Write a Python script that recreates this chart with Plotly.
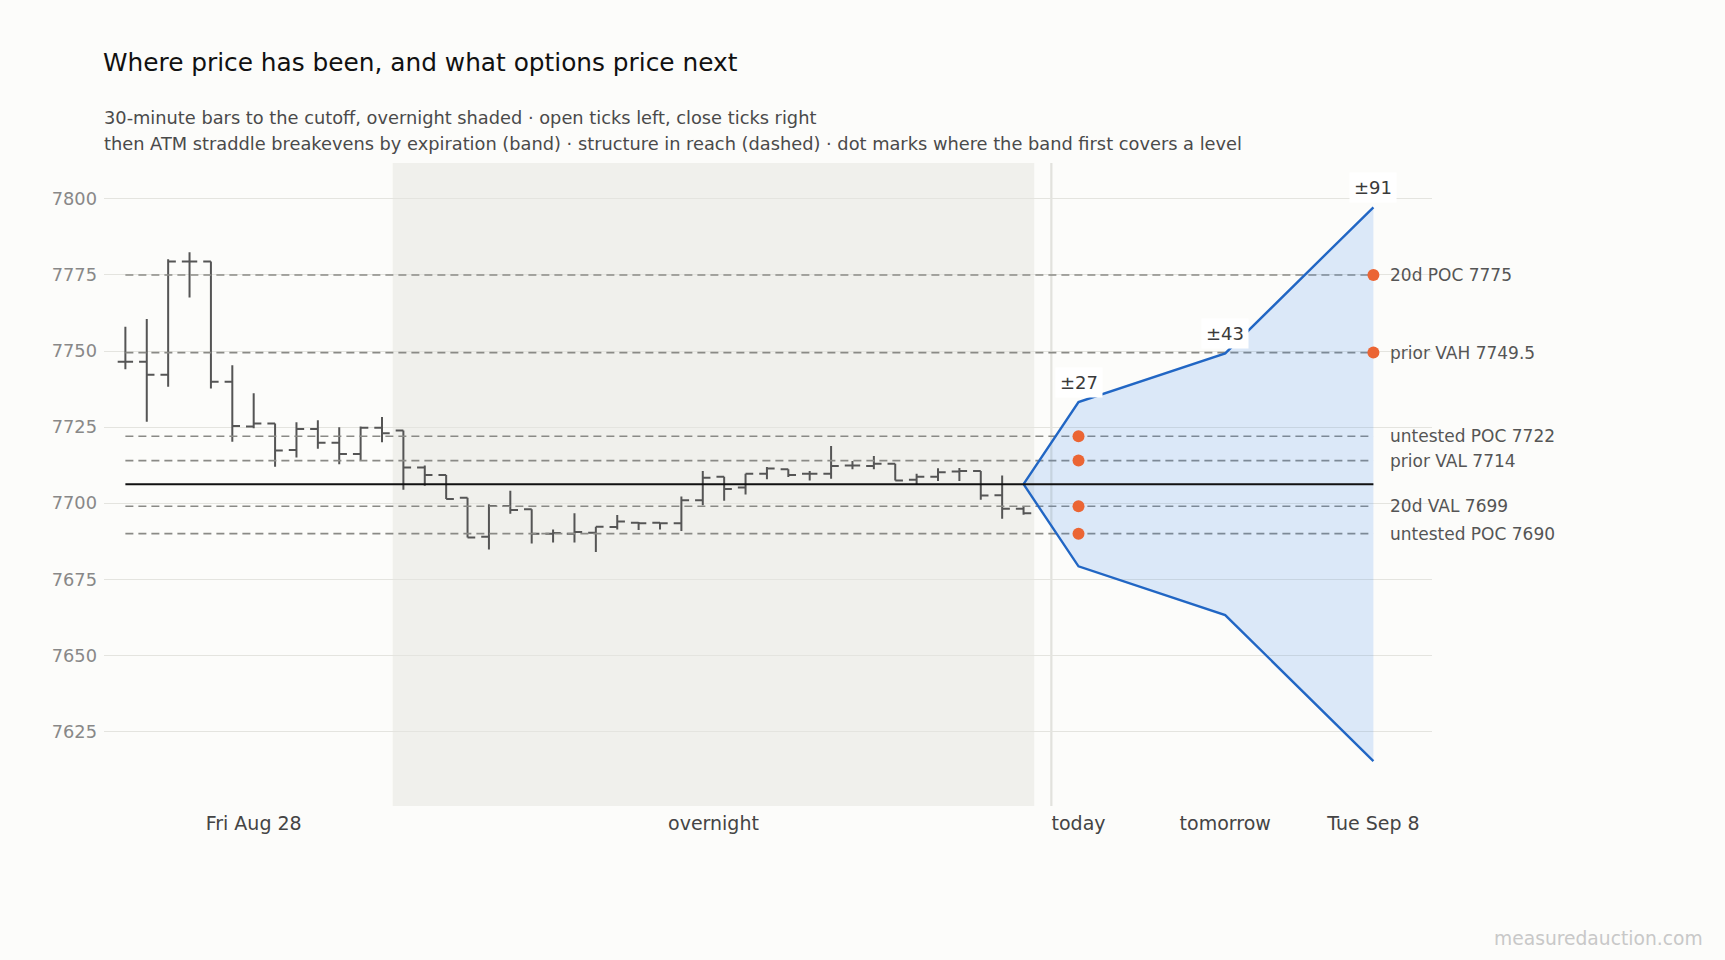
import plotly.graph_objects as go

# 30-minute bars up to the cutoff (index 0..42)
bar_open = [7746.5, 7746.5, 7742.2, 7779.4, 7779.4, 7739.9, 7725.2, 7726.2, 7717.5, 7724.4,
            7719.9, 7716.2, 7724.8, 7723.9, 7711.7, 7709.3, 7701.8, 7689.0, 7699.1, 7698.0,
            7690.0, 7690.0, 7690.3, 7692.2, 7693.6, 7693.6, 7693.4, 7701.0, 7708.7, 7705.2,
            7709.7, 7711.2, 7709.7, 7709.7, 7712.4, 7712.2, 7713.0, 7707.7, 7708.7, 7710.4,
            7710.6, 7702.6, 7698.2]
bar_high = [7758.0, 7760.5, 7780.2, 7782.5, 7779.4, 7745.3, 7736.1, 7726.2, 7726.6, 7727.3,
            7725.0, 7725.2, 7728.3, 7723.9, 7712.4, 7709.3, 7701.8, 7699.7, 7704.1, 7698.0,
            7691.4, 7696.7, 7692.3, 7696.1, 7693.8, 7693.6, 7702.2, 7710.6, 7708.7, 7709.7,
            7711.9, 7711.2, 7710.6, 7718.8, 7713.9, 7715.5, 7713.0, 7709.7, 7711.5, 7711.6,
            7710.6, 7709.1, 7699.0]
bar_low = [7744.0, 7726.8, 7738.3, 7767.6, 7737.7, 7720.2, 7724.6, 7712.0, 7715.0, 7717.9,
           7712.8, 7714.2, 7720.0, 7704.4, 7705.7, 7701.4, 7688.7, 7684.8, 7696.5, 7686.8,
           7687.1, 7687.1, 7684.0, 7691.4, 7691.2, 7691.4, 7690.9, 7699.3, 7700.8, 7702.9,
           7707.9, 7708.6, 7707.5, 7708.0, 7711.2, 7711.2, 7707.5, 7706.3, 7707.3, 7707.3,
           7701.1, 7694.9, 7696.2]
bar_close = [7746.5, 7742.2, 7779.4, 7779.4, 7739.9, 7725.4, 7726.2, 7717.3, 7724.4, 7719.9,
             7716.2, 7724.8, 7723.0, 7711.7, 7709.3, 7701.4, 7688.7, 7699.1, 7697.8, 7690.0,
             7690.2, 7690.5, 7692.3, 7694.0, 7693.4, 7693.4, 7701.0, 7708.4, 7704.7, 7709.7,
             7711.4, 7709.3, 7709.7, 7712.2, 7712.4, 7713.0, 7707.5, 7708.7, 7710.2, 7710.6,
             7702.5, 7698.2, 7696.7]
bar_x = list(range(len(bar_open)))

# sessions: first index, last index
session_labels = ["Fri Aug 28", "overnight"]
session_first = [0, 13]
session_last = [12, 42]

cutoff_x = 43.3
anchor_price = 7706.25

# ATM straddle by expiration
expiry_labels = ["today", "tomorrow", "Tue Sep 8"]
expiry_x = [44.57, 51.43, 58.36]
straddle = [27, 43, 91]

# structure levels
level_names = ["20d POC", "prior VAH", "untested POC", "prior VAL", "20d VAL", "untested POC"]
level_prices = [7775, 7749.5, 7722, 7714, 7699, 7690]

FONT = "DejaVu Sans"
BG = "#fcfcfa"

fig = go.Figure()

# shaded overnight session
on_x0 = session_first[1] - 0.5
on_x1 = session_last[1] + 0.5
fig.add_shape(type="rect", xref="x", yref="paper", x0=on_x0, x1=on_x1, y0=0, y1=1,
              fillcolor="#f0f0ec", line_width=0, layer="below")
# cutoff line
fig.add_shape(type="line", xref="x", yref="paper", x0=cutoff_x, x1=cutoff_x, y0=0, y1=1,
              line=dict(color="#e2e2dd", width=2.2), layer="below")

last_x = bar_x[-1]
end_x = expiry_x[-1]

# dashed structure levels
for p in level_prices:
    fig.add_trace(go.Scatter(x=[bar_x[0], end_x], y=[p, p], mode="lines",
                             line=dict(color="#8a8a86", width=1.6, dash="8px,5px"),
                             hoverinfo="skip", showlegend=False))

# bars
fig.add_trace(go.Ohlc(x=bar_x, open=bar_open, high=bar_high, low=bar_low, close=bar_close,
                      increasing_line_color="#555555", decreasing_line_color="#555555",
                      line_width=2, tickwidth=0.36, showlegend=False))

# straddle band
band_x = [last_x] + expiry_x
upper = [anchor_price] + [anchor_price + s for s in straddle]
lower = [anchor_price] + [anchor_price - s for s in straddle]
fig.add_trace(go.Scatter(x=band_x, y=lower, mode="lines",
                         line=dict(color="#2166c4", width=2.4),
                         hoverinfo="skip", showlegend=False))
fig.add_trace(go.Scatter(x=band_x, y=upper, mode="lines", fill="tonexty",
                         fillcolor="rgba(60,135,235,0.17)",
                         line=dict(color="#2166c4", width=2.4),
                         hoverinfo="skip", showlegend=False))

# reference price line
fig.add_trace(go.Scatter(x=[bar_x[0], end_x], y=[anchor_price, anchor_price], mode="lines",
                         line=dict(color="#111111", width=2),
                         hoverinfo="skip", showlegend=False))

# dots where the band first covers each level
dot_x, dot_y = [], []
for p in level_prices:
    for ex, s in zip(expiry_x, straddle):
        if anchor_price - s <= p <= anchor_price + s:
            dot_x.append(ex)
            dot_y.append(p)
            break
fig.add_trace(go.Scatter(x=dot_x, y=dot_y, mode="markers",
                         marker=dict(color="#eb6534", size=12),
                         hoverinfo="skip", showlegend=False))

# straddle labels
for ex, s, u in zip(expiry_x, straddle, upper[1:]):
    fig.add_annotation(x=ex, y=u, text=f"±{s}", showarrow=False, yshift=20,
                       font=dict(family=FONT, size=18, color="#3a3a3a"),
                       bgcolor="#ffffff", borderpad=4)

# level labels
for name, p in zip(level_names, level_prices):
    fig.add_annotation(x=end_x, y=p, text=f"{name} {p:g}", showarrow=False,
                       xanchor="left", xshift=15,
                       font=dict(family=FONT, size=17, color="#555555"))

# subtitle
fig.add_annotation(xref="paper", yref="paper", x=0, y=1.070, xanchor="left", yanchor="middle",
                   xshift=-2,
                   text="30-minute bars to the cutoff, overnight shaded · open ticks left, close ticks right",
                   showarrow=False, font=dict(family=FONT, size=17.8, color="#4a4a4a"))
fig.add_annotation(xref="paper", yref="paper", x=0, y=1.031, xanchor="left", yanchor="middle",
                   xshift=-2,
                   text="then ATM straddle breakevens by expiration (band) · structure in reach (dashed) · dot marks where the band first covers a level",
                   showarrow=False, font=dict(family=FONT, size=17.8, color="#4a4a4a"))

# watermark
fig.add_annotation(xref="paper", yref="paper", x=1.2038, y=-0.2058, xanchor="right", yanchor="middle",
                   xshift=2,
                   text="measuredauction.com", showarrow=False,
                   font=dict(family=FONT, size=18.7, color="#c8c8c8"))

tick_vals = [(a + b) / 2 for a, b in zip(session_first, session_last)] + expiry_x
tick_text = session_labels + expiry_labels

fig.update_layout(
    width=1725, height=960,
    paper_bgcolor=BG, plot_bgcolor=BG,
    margin=dict(l=104, r=293, t=163, b=154),
    font=dict(family=FONT),
    title=dict(text="Where price has been, and what options price next",
               x=103 / 1725, xanchor="left", xref="container",
               y=1 - 62 / 960, yanchor="middle", yref="container",
               font=dict(family=FONT, size=24.8, color="#111111")),
    xaxis=dict(range=[-1.0, 61.1], showgrid=False, zeroline=False, showline=False,
               tickmode="array", tickvals=tick_vals, ticktext=tick_text, ticks="",
               ticklabelstandoff=4,
               tickfont=dict(family=FONT, size=19, color="#444444"),
               rangeslider=dict(visible=False), fixedrange=True),
    yaxis=dict(range=[7600.5, 7811.8], dtick=25, tick0=7600, showgrid=True,
               gridcolor="#e4e4df", gridwidth=1.2, zeroline=False, showline=False,
               ticks="", ticklabelstandoff=6,
               tickfont=dict(family=FONT, size=17.8, color="#888888")),
    showlegend=False,
)

fig.write_html("out.html", config={"displayModeBar": False},
               post_script="document.body.style.margin='0';document.body.style.background='#fcfcfa';")
